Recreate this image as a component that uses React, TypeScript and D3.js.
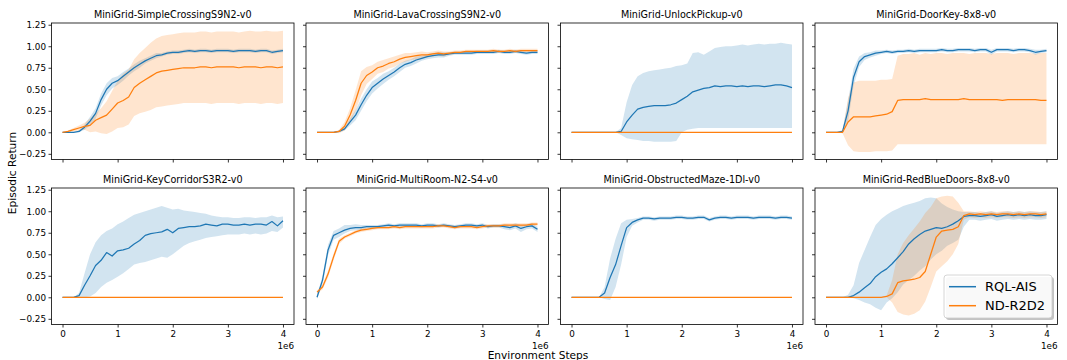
import React, { useEffect, useRef } from 'react';
import * as d3 from 'd3';

const W = 1067;
const H = 360;
const FONT = 'DejaVu Sans, sans-serif';

// environment steps, in units of 1e6
const steps = [
  0, 0.1, 0.2, 0.3, 0.4, 0.5, 0.6, 0.7, 0.8, 0.9,
  1.0, 1.1, 1.2, 1.3, 1.4, 1.5, 1.6, 1.7, 1.8, 1.9,
  2.0, 2.1, 2.2, 2.3, 2.4, 2.5, 2.6, 2.7, 2.8, 2.9,
  3.0, 3.1, 3.2, 3.3, 3.4, 3.5, 3.6, 3.7, 3.8, 3.9,
  4.0,
];

const envNames = [
  'MiniGrid-SimpleCrossingS9N2-v0',
  'MiniGrid-LavaCrossingS9N2-v0',
  'MiniGrid-UnlockPickup-v0',
  'MiniGrid-DoorKey-8x8-v0',
  'MiniGrid-KeyCorridorS3R2-v0',
  'MiniGrid-MultiRoom-N2-S4-v0',
  'MiniGrid-ObstructedMaze-1Dl-v0',
  'MiniGrid-RedBlueDoors-8x8-v0',
];

const seriesNames = ['RQL-AIS', 'ND-R2D2'];
const colors = ['#1f77b4', '#ff7f0e'];
const yTicks = [-0.25, 0, 0.25, 0.5, 0.75, 1.0, 1.25];
const xTicks = [0, 1, 2, 3, 4];

// ND-R2D2 never leaves zero on a few tasks
const flatZero = [
  0, 0, 0, 0, 0, 0, 0, 0, 0, 0,
  0, 0, 0, 0, 0, 0, 0, 0, 0, 0,
  0, 0, 0, 0, 0, 0, 0, 0, 0, 0,
  0, 0, 0, 0, 0, 0, 0, 0, 0, 0,
  0,
];

// SimpleCrossingS9N2
const scBlue = [0, 0, 0, 0.01, 0.06, 0.13, 0.22, 0.38, 0.5, 0.57, 0.6, 0.65, 0.7, 0.75, 0.79, 0.83, 0.86, 0.89, 0.9, 0.92, 0.93, 0.93, 0.94, 0.95, 0.94, 0.95, 0.95, 0.94, 0.95, 0.95, 0.95, 0.94, 0.95, 0.95, 0.95, 0.94, 0.95, 0.95, 0.93, 0.94, 0.95];
const scBlueLo = [0, 0, 0, 0, 0.03, 0.08, 0.16, 0.31, 0.43, 0.51, 0.55, 0.6, 0.66, 0.71, 0.75, 0.8, 0.83, 0.86, 0.88, 0.9, 0.91, 0.91, 0.92, 0.93, 0.92, 0.93, 0.93, 0.92, 0.93, 0.93, 0.93, 0.92, 0.93, 0.93, 0.93, 0.92, 0.93, 0.93, 0.91, 0.92, 0.93];
const scBlueHi = [0, 0, 0, 0.02, 0.09, 0.18, 0.28, 0.45, 0.57, 0.63, 0.65, 0.7, 0.74, 0.79, 0.83, 0.86, 0.89, 0.92, 0.92, 0.94, 0.95, 0.95, 0.96, 0.97, 0.96, 0.97, 0.97, 0.96, 0.97, 0.97, 0.97, 0.96, 0.97, 0.97, 0.97, 0.96, 0.97, 0.97, 0.95, 0.96, 0.97];
const scOrange = [0, 0.01, 0.03, 0.05, 0.07, 0.08, 0.14, 0.17, 0.2, 0.27, 0.34, 0.37, 0.41, 0.52, 0.57, 0.61, 0.65, 0.69, 0.71, 0.72, 0.73, 0.74, 0.75, 0.75, 0.75, 0.76, 0.76, 0.75, 0.76, 0.76, 0.76, 0.76, 0.75, 0.76, 0.76, 0.76, 0.75, 0.76, 0.76, 0.75, 0.76];
const scOrangeLo = [0, 0, 0.01, 0.02, 0.03, 0, 0.01, -0.01, -0.02, 0.01, 0.05, 0.06, 0.09, 0.19, 0.22, 0.24, 0.26, 0.29, 0.3, 0.31, 0.32, 0.33, 0.34, 0.34, 0.34, 0.34, 0.34, 0.33, 0.34, 0.34, 0.34, 0.34, 0.33, 0.34, 0.34, 0.34, 0.33, 0.34, 0.34, 0.33, 0.34];
const scOrangeHi = [0, 0.02, 0.05, 0.08, 0.11, 0.16, 0.22, 0.28, 0.36, 0.48, 0.6, 0.68, 0.73, 0.85, 0.92, 0.98, 1.04, 1.09, 1.12, 1.13, 1.14, 1.15, 1.16, 1.16, 1.16, 1.17, 1.17, 1.16, 1.17, 1.17, 1.17, 1.17, 1.16, 1.17, 1.18, 1.17, 1.17, 1.18, 1.17, 1.17, 1.18];

// LavaCrossingS9N2
const lcBlue = [0, 0, 0, 0, 0.01, 0.04, 0.12, 0.2, 0.32, 0.43, 0.52, 0.57, 0.62, 0.66, 0.7, 0.75, 0.79, 0.81, 0.84, 0.86, 0.88, 0.89, 0.9, 0.9, 0.91, 0.92, 0.92, 0.92, 0.92, 0.93, 0.93, 0.93, 0.93, 0.94, 0.93, 0.93, 0.94, 0.93, 0.92, 0.93, 0.93];
const lcBlueLo = [0, 0, 0, 0, 0, 0.02, 0.08, 0.14, 0.25, 0.36, 0.45, 0.51, 0.56, 0.61, 0.65, 0.7, 0.75, 0.77, 0.8, 0.83, 0.85, 0.86, 0.87, 0.87, 0.89, 0.9, 0.9, 0.9, 0.9, 0.91, 0.91, 0.91, 0.91, 0.92, 0.91, 0.91, 0.92, 0.91, 0.9, 0.91, 0.91];
const lcBlueHi = [0, 0, 0, 0, 0.02, 0.06, 0.16, 0.26, 0.39, 0.5, 0.59, 0.63, 0.68, 0.71, 0.75, 0.8, 0.83, 0.85, 0.88, 0.89, 0.91, 0.92, 0.93, 0.93, 0.93, 0.94, 0.94, 0.94, 0.94, 0.95, 0.95, 0.95, 0.95, 0.96, 0.95, 0.95, 0.96, 0.95, 0.94, 0.95, 0.95];
const lcOrange = [0, 0, 0, 0, 0.01, 0.07, 0.2, 0.37, 0.57, 0.66, 0.7, 0.75, 0.77, 0.8, 0.82, 0.85, 0.87, 0.88, 0.89, 0.9, 0.9, 0.91, 0.92, 0.91, 0.92, 0.93, 0.93, 0.94, 0.94, 0.94, 0.94, 0.94, 0.95, 0.94, 0.94, 0.95, 0.94, 0.95, 0.95, 0.95, 0.95];
const lcOrangeLo = [0, 0, 0, 0, -0.01, 0.02, 0.12, 0.25, 0.43, 0.56, 0.62, 0.68, 0.7, 0.74, 0.76, 0.8, 0.82, 0.84, 0.85, 0.86, 0.87, 0.88, 0.89, 0.88, 0.9, 0.91, 0.91, 0.92, 0.92, 0.92, 0.92, 0.92, 0.93, 0.92, 0.92, 0.93, 0.92, 0.93, 0.93, 0.93, 0.93];
const lcOrangeHi = [0, 0, 0, 0, 0.03, 0.12, 0.28, 0.49, 0.71, 0.76, 0.78, 0.82, 0.84, 0.86, 0.88, 0.9, 0.92, 0.92, 0.93, 0.94, 0.93, 0.94, 0.95, 0.94, 0.94, 0.95, 0.95, 0.96, 0.96, 0.96, 0.96, 0.96, 0.97, 0.96, 0.96, 0.97, 0.96, 0.97, 0.97, 0.97, 0.97];

// UnlockPickup
const ulBlue = [0, 0, 0, 0, 0, 0, 0, 0, 0, 0.01, 0.12, 0.2, 0.27, 0.29, 0.3, 0.31, 0.31, 0.31, 0.32, 0.34, 0.38, 0.42, 0.47, 0.49, 0.51, 0.52, 0.54, 0.53, 0.54, 0.54, 0.53, 0.54, 0.53, 0.54, 0.54, 0.53, 0.54, 0.55, 0.55, 0.54, 0.52];
const ulBlueLo = [0, 0, 0, 0, 0, 0, 0, 0, 0, -0.03, -0.07, -0.08, -0.09, -0.1, -0.1, -0.11, -0.11, -0.11, -0.11, -0.1, 0, 0.03, 0.04, 0.05, 0.05, 0.05, 0.05, 0.05, 0.05, 0.05, 0.05, 0.05, 0.05, 0.05, 0.05, 0.05, 0.05, 0.05, 0.05, 0.05, 0.05];
const ulBlueHi = [0, 0, 0, 0, 0, 0, 0, 0, 0, 0.05, 0.35, 0.55, 0.65, 0.69, 0.71, 0.72, 0.73, 0.74, 0.75, 0.77, 0.78, 0.8, 0.92, 0.93, 0.9, 0.94, 0.98, 0.99, 1.0, 1.0, 1.01, 1.02, 1.01, 1.02, 1.03, 1.02, 1.03, 1.03, 1.04, 1.03, 1.02];

// DoorKey-8x8
const dkBlue = [0, 0, 0, 0.01, 0.25, 0.64, 0.82, 0.88, 0.9, 0.92, 0.93, 0.94, 0.93, 0.94, 0.94, 0.95, 0.94, 0.95, 0.95, 0.95, 0.95, 0.96, 0.95, 0.95, 0.96, 0.96, 0.96, 0.95, 0.96, 0.96, 0.93, 0.96, 0.96, 0.96, 0.95, 0.96, 0.96, 0.95, 0.93, 0.94, 0.95];
const dkBlueLo = [0, 0, 0, -0.01, 0.13, 0.54, 0.76, 0.84, 0.87, 0.89, 0.91, 0.92, 0.91, 0.92, 0.92, 0.93, 0.92, 0.93, 0.93, 0.93, 0.93, 0.94, 0.93, 0.93, 0.94, 0.94, 0.94, 0.93, 0.94, 0.94, 0.9, 0.94, 0.94, 0.94, 0.93, 0.94, 0.94, 0.93, 0.9, 0.92, 0.93];
const dkBlueHi = [0, 0, 0, 0.03, 0.37, 0.74, 0.88, 0.92, 0.93, 0.95, 0.95, 0.96, 0.95, 0.96, 0.96, 0.97, 0.96, 0.97, 0.97, 0.97, 0.97, 0.98, 0.97, 0.97, 0.98, 0.98, 0.98, 0.97, 0.98, 0.98, 0.96, 0.98, 0.98, 0.98, 0.97, 0.98, 0.98, 0.97, 0.96, 0.96, 0.97];
const dkOrange = [0, 0, 0, 0, 0.12, 0.18, 0.18, 0.18, 0.18, 0.19, 0.2, 0.21, 0.24, 0.37, 0.38, 0.38, 0.38, 0.38, 0.39, 0.38, 0.38, 0.38, 0.38, 0.38, 0.38, 0.39, 0.38, 0.38, 0.38, 0.38, 0.38, 0.38, 0.37, 0.38, 0.38, 0.38, 0.38, 0.38, 0.38, 0.37, 0.37];
const dkOrangeLo = [0, 0, 0, -0.01, -0.15, -0.22, -0.23, -0.23, -0.23, -0.22, -0.22, -0.22, -0.21, -0.14, -0.14, -0.14, -0.14, -0.14, -0.14, -0.14, -0.14, -0.14, -0.14, -0.14, -0.14, -0.14, -0.14, -0.14, -0.14, -0.14, -0.14, -0.14, -0.14, -0.14, -0.14, -0.14, -0.14, -0.14, -0.14, -0.14, -0.14];
const dkOrangeHi = [0, 0, 0, 0.01, 0.4, 0.58, 0.6, 0.6, 0.6, 0.6, 0.61, 0.61, 0.62, 0.89, 0.91, 0.91, 0.92, 0.9, 0.92, 0.91, 0.92, 0.92, 0.91, 0.92, 0.92, 0.92, 0.91, 0.92, 0.92, 0.92, 0.91, 0.92, 0.92, 0.92, 0.91, 0.92, 0.92, 0.92, 0.91, 0.92, 0.92];

// KeyCorridorS3R2
const kcBlue = [0, 0, 0, 0.02, 0.14, 0.25, 0.37, 0.43, 0.52, 0.48, 0.54, 0.55, 0.57, 0.62, 0.66, 0.72, 0.74, 0.75, 0.76, 0.79, 0.75, 0.8, 0.81, 0.82, 0.82, 0.83, 0.85, 0.84, 0.83, 0.85, 0.85, 0.84, 0.84, 0.85, 0.84, 0.85, 0.85, 0.84, 0.88, 0.83, 0.89];
const kcBlueLo = [0, 0, 0, 0, 0, 0.01, 0.05, 0.12, 0.17, 0.2, 0.24, 0.28, 0.33, 0.38, 0.4, 0.41, 0.43, 0.45, 0.47, 0.46, 0.5, 0.55, 0.6, 0.63, 0.65, 0.67, 0.69, 0.7, 0.71, 0.72, 0.73, 0.73, 0.73, 0.74, 0.73, 0.74, 0.73, 0.74, 0.77, 0.76, 0.81];
const kcBlueHi = [0, 0, 0, 0.05, 0.28, 0.5, 0.64, 0.72, 0.77, 0.8, 0.85, 0.88, 0.92, 0.96, 0.98, 1.0, 1.02, 1.04, 1.06, 1.04, 1.02, 1.03, 1.01, 1.0, 0.99, 0.98, 0.97, 0.95, 0.94, 0.93, 0.93, 0.92, 0.92, 0.93, 0.93, 0.92, 0.93, 0.93, 0.95, 0.93, 0.94];

// MultiRoom-N2-S4
const mrBlue = [0, 0.2, 0.55, 0.72, 0.75, 0.78, 0.8, 0.81, 0.81, 0.82, 0.82, 0.82, 0.83, 0.84, 0.83, 0.84, 0.84, 0.84, 0.84, 0.83, 0.84, 0.84, 0.83, 0.84, 0.83, 0.82, 0.83, 0.84, 0.84, 0.83, 0.84, 0.82, 0.83, 0.83, 0.82, 0.81, 0.83, 0.8, 0.82, 0.83, 0.79];
const mrBlueLo = [-0.02, 0.15, 0.49, 0.67, 0.7, 0.74, 0.77, 0.78, 0.78, 0.8, 0.8, 0.8, 0.81, 0.82, 0.81, 0.82, 0.82, 0.82, 0.82, 0.81, 0.82, 0.82, 0.81, 0.82, 0.81, 0.8, 0.81, 0.82, 0.82, 0.81, 0.82, 0.8, 0.81, 0.81, 0.79, 0.78, 0.8, 0.76, 0.79, 0.8, 0.76];
const mrBlueHi = [0.02, 0.25, 0.61, 0.77, 0.8, 0.84, 0.84, 0.85, 0.84, 0.84, 0.84, 0.84, 0.85, 0.86, 0.85, 0.86, 0.86, 0.86, 0.86, 0.85, 0.86, 0.86, 0.85, 0.86, 0.85, 0.84, 0.85, 0.86, 0.86, 0.85, 0.86, 0.84, 0.85, 0.85, 0.85, 0.84, 0.86, 0.84, 0.85, 0.86, 0.82];
const mrOrange = [0.06, 0.12, 0.27, 0.47, 0.65, 0.7, 0.73, 0.76, 0.78, 0.79, 0.8, 0.81, 0.81, 0.81, 0.82, 0.81, 0.82, 0.82, 0.82, 0.82, 0.82, 0.82, 0.83, 0.83, 0.82, 0.81, 0.82, 0.82, 0.82, 0.81, 0.82, 0.83, 0.83, 0.83, 0.84, 0.84, 0.84, 0.84, 0.84, 0.85, 0.85];
const mrOrangeLo = [0.04, 0.09, 0.23, 0.43, 0.62, 0.68, 0.71, 0.74, 0.76, 0.77, 0.78, 0.79, 0.79, 0.79, 0.8, 0.79, 0.8, 0.8, 0.8, 0.8, 0.8, 0.8, 0.81, 0.81, 0.8, 0.79, 0.8, 0.8, 0.8, 0.79, 0.8, 0.81, 0.81, 0.81, 0.82, 0.82, 0.82, 0.82, 0.82, 0.83, 0.83];
const mrOrangeHi = [0.08, 0.15, 0.31, 0.51, 0.68, 0.72, 0.75, 0.78, 0.8, 0.81, 0.82, 0.83, 0.83, 0.83, 0.84, 0.83, 0.84, 0.84, 0.84, 0.84, 0.84, 0.84, 0.85, 0.85, 0.84, 0.83, 0.84, 0.84, 0.84, 0.83, 0.84, 0.85, 0.85, 0.85, 0.86, 0.86, 0.86, 0.86, 0.86, 0.87, 0.87];

// ObstructedMaze-1Dl
const omBlue = [0, 0, 0, 0, 0, 0, 0.05, 0.23, 0.38, 0.6, 0.81, 0.87, 0.9, 0.92, 0.92, 0.91, 0.92, 0.92, 0.92, 0.93, 0.93, 0.92, 0.92, 0.93, 0.93, 0.9, 0.92, 0.93, 0.93, 0.92, 0.93, 0.93, 0.93, 0.92, 0.93, 0.93, 0.93, 0.92, 0.93, 0.93, 0.92];
const omBlueLo = [0, 0, 0, 0, 0, 0, -0.02, -0.03, 0.12, 0.38, 0.7, 0.83, 0.87, 0.9, 0.9, 0.89, 0.9, 0.9, 0.9, 0.91, 0.91, 0.9, 0.9, 0.91, 0.91, 0.88, 0.9, 0.91, 0.91, 0.9, 0.91, 0.91, 0.91, 0.9, 0.91, 0.91, 0.91, 0.9, 0.91, 0.91, 0.9];
const omBlueHi = [0, 0, 0, 0, 0, 0, 0.12, 0.45, 0.68, 0.86, 0.9, 0.91, 0.92, 0.94, 0.94, 0.93, 0.94, 0.94, 0.94, 0.95, 0.95, 0.94, 0.94, 0.95, 0.95, 0.92, 0.94, 0.95, 0.95, 0.94, 0.95, 0.95, 0.95, 0.94, 0.95, 0.95, 0.95, 0.94, 0.95, 0.95, 0.94];

// RedBlueDoors-8x8
const rbBlue = [0, 0, 0, 0, 0, 0.02, 0.06, 0.11, 0.16, 0.24, 0.29, 0.33, 0.39, 0.46, 0.53, 0.62, 0.68, 0.73, 0.77, 0.79, 0.81, 0.8, 0.82, 0.85, 0.89, 0.94, 0.95, 0.95, 0.94, 0.95, 0.96, 0.94, 0.95, 0.96, 0.95, 0.96, 0.95, 0.96, 0.95, 0.95, 0.96];
const rbBlueLo = [0, 0, 0, 0, 0, -0.01, -0.03, -0.06, -0.08, -0.12, -0.15, -0.06, -0.01, 0.06, 0.15, 0.2, 0.25, 0.31, 0.36, 0.44, 0.5, 0.54, 0.6, 0.63, 0.67, 0.82, 0.9, 0.9, 0.89, 0.9, 0.91, 0.89, 0.9, 0.91, 0.9, 0.91, 0.9, 0.91, 0.9, 0.9, 0.91];
const rbBlueHi = [0, 0, 0, 0, 0.03, 0.14, 0.4, 0.55, 0.7, 0.84, 0.91, 0.96, 1.0, 1.03, 1.06, 1.08, 1.1, 1.12, 1.15, 1.16, 1.15, 1.09, 1.05, 1.02, 1.0, 0.99, 0.99, 0.99, 0.98, 0.99, 1.0, 0.98, 0.99, 1.0, 0.99, 1.0, 0.99, 1.0, 0.99, 0.99, 1.0];
const rbOrange = [0, 0, 0, 0, 0, 0, 0, 0, 0, 0, 0, 0.01, 0.04, 0.17, 0.19, 0.2, 0.21, 0.23, 0.3, 0.5, 0.7, 0.77, 0.78, 0.79, 0.82, 0.95, 0.97, 0.96, 0.97, 0.96, 0.97, 0.96, 0.97, 0.97, 0.96, 0.97, 0.96, 0.97, 0.97, 0.96, 0.97];
const rbOrangeLo = [0, 0, 0, 0, 0, 0, 0, 0, 0, 0, 0, 0, -0.06, -0.17, -0.2, -0.21, -0.19, -0.15, -0.05, 0.12, 0.3, 0.36, 0.42, 0.5, 0.62, 0.9, 0.93, 0.92, 0.93, 0.92, 0.93, 0.92, 0.93, 0.93, 0.92, 0.93, 0.92, 0.93, 0.93, 0.92, 0.93];
const rbOrangeHi = [0, 0, 0, 0, 0, 0, 0, 0, 0, 0, 0, 0.02, 0.2, 0.5, 0.63, 0.72, 0.8, 0.88, 0.98, 1.05, 1.15, 1.17, 1.18, 1.17, 1.1, 1.0, 1.0, 0.99, 1.0, 0.99, 1.0, 0.99, 1.0, 1.0, 0.99, 1.0, 0.99, 1.0, 1.0, 0.99, 1.0];

type Series = { mean: number[]; lo: number[]; hi: number[] };

const panels: { title: string; series: Series[] }[] = [
  { title: envNames[0], series: [{ mean: scBlue, lo: scBlueLo, hi: scBlueHi }, { mean: scOrange, lo: scOrangeLo, hi: scOrangeHi }] },
  { title: envNames[1], series: [{ mean: lcBlue, lo: lcBlueLo, hi: lcBlueHi }, { mean: lcOrange, lo: lcOrangeLo, hi: lcOrangeHi }] },
  { title: envNames[2], series: [{ mean: ulBlue, lo: ulBlueLo, hi: ulBlueHi }, { mean: flatZero, lo: flatZero, hi: flatZero }] },
  { title: envNames[3], series: [{ mean: dkBlue, lo: dkBlueLo, hi: dkBlueHi }, { mean: dkOrange, lo: dkOrangeLo, hi: dkOrangeHi }] },
  { title: envNames[4], series: [{ mean: kcBlue, lo: kcBlueLo, hi: kcBlueHi }, { mean: flatZero, lo: flatZero, hi: flatZero }] },
  { title: envNames[5], series: [{ mean: mrBlue, lo: mrBlueLo, hi: mrBlueHi }, { mean: mrOrange, lo: mrOrangeLo, hi: mrOrangeHi }] },
  { title: envNames[6], series: [{ mean: omBlue, lo: omBlueLo, hi: omBlueHi }, { mean: flatZero, lo: flatZero, hi: flatZero }] },
  { title: envNames[7], series: [{ mean: rbBlue, lo: rbBlueLo, hi: rbBlueHi }, { mean: rbOrange, lo: rbOrangeLo, hi: rbOrangeHi }] },
];

// grid layout
const panelLeft = [51.5, 306, 560.5, 815];
const panelTop = [23, 188];
const panelW = 242.5;
const panelH = 136.5;
const xDomain = [-0.2, 4.2];
const yDomain = [-0.316, 1.27];

const fmtY = (v: number) => v.toFixed(2).replace('-', '\u2212');

const App = () => {
  const ref = useRef<SVGSVGElement>(null);

  useEffect(() => {
    const svg = d3.select(ref.current);
    svg.selectAll('*').remove();
    svg.append('rect').attr('width', W).attr('height', H).attr('fill', '#fff');

    panels.forEach((p, i) => {
      const col = i % 4;
      const row = Math.floor(i / 4);
      const left = panelLeft[col];
      const top = panelTop[row];
      const x = d3.scaleLinear().domain(xDomain).range([left, left + panelW]);
      const y = d3.scaleLinear().domain(yDomain).range([top + panelH, top]);
      const g = svg.append('g');

      // bands first, then the mean lines
      p.series.forEach((s, k) => {
        const band = d3.area<number>()
          .x((_, j) => x(steps[j]))
          .y0((_, j) => y(s.lo[j]))
          .y1((_, j) => y(s.hi[j]));
        g.append('path')
          .datum(s.mean)
          .attr('d', band)
          .attr('fill', colors[k])
          .attr('fill-opacity', 0.2);
      });
      p.series.forEach((s, k) => {
        const line = d3.line<number>()
          .x((_, j) => x(steps[j]))
          .y(d => y(d));
        g.append('path')
          .datum(s.mean)
          .attr('d', line)
          .attr('fill', 'none')
          .attr('stroke', colors[k])
          .attr('stroke-width', 1.25)
          .attr('stroke-linejoin', 'round');
      });

      // axes
      const yAxis = d3.axisLeft(y)
        .tickValues(yTicks)
        .tickSize(3)
        .tickPadding(2.5)
        .tickFormat(col === 0 ? (d => fmtY(+d)) : () => '');
      const ya = g.append('g').attr('transform', `translate(${left},0)`).call(yAxis);
      ya.select('.domain').remove();

      const xAxis = d3.axisBottom(x)
        .tickValues(xTicks)
        .tickSize(3)
        .tickPadding(3)
        .tickFormat(row === 1 ? d3.format('d') : () => '');
      const xa = g.append('g').attr('transform', `translate(0,${top + panelH})`).call(xAxis);
      xa.select('.domain').remove();

      [ya, xa].forEach(a => {
        a.attr('font-family', FONT).attr('font-size', 8.8);
        a.selectAll('text').attr('fill', '#000');
        a.selectAll('line').attr('stroke', '#000').attr('stroke-width', 0.8);
      });

      g.append('rect')
        .attr('x', left)
        .attr('y', top)
        .attr('width', panelW)
        .attr('height', panelH)
        .attr('fill', 'none')
        .attr('stroke', '#000')
        .attr('stroke-width', 0.8);

      g.append('text')
        .attr('x', left + panelW / 2)
        .attr('y', top - 5)
        .attr('text-anchor', 'middle')
        .attr('font-family', FONT)
        .attr('font-size', 9.6)
        .text(p.title);

      if (row === 1) {
        g.append('text')
          .attr('x', left + panelW)
          .attr('y', 349.3)
          .attr('text-anchor', 'end')
          .attr('font-family', FONT)
          .attr('font-size', 8.8)
          .text('1e6');
      }

      // legend sits in the last panel, lower right
      if (i === panels.length - 1) {
        const lx = 944;
        const ly = 275;
        const lw = 108;
        const lh = 43;
        const lg = g.append('g');
        lg.append('rect')
          .attr('x', lx + 2).attr('y', ly + 2).attr('width', lw).attr('height', lh)
          .attr('rx', 3).attr('fill', '#888').attr('fill-opacity', 0.5);
        lg.append('rect')
          .attr('x', lx).attr('y', ly).attr('width', lw).attr('height', lh)
          .attr('rx', 3).attr('fill', '#fff').attr('fill-opacity', 0.9)
          .attr('stroke', '#ccc').attr('stroke-width', 0.8);
        seriesNames.forEach((name, k) => {
          const cy = ly + 11.7 + k * 19;
          lg.append('line')
            .attr('x1', lx + 5).attr('x2', lx + 32)
            .attr('y1', cy).attr('y2', cy)
            .attr('stroke', colors[k]).attr('stroke-width', 1.5);
          lg.append('text')
            .attr('x', lx + 41)
            .attr('y', cy)
            .attr('dominant-baseline', 'central')
            .attr('font-family', FONT)
            .attr('font-size', 13)
            .text(name);
        });
      }
    });

    svg.append('text')
      .attr('x', 538)
      .attr('y', 359.3)
      .attr('text-anchor', 'middle')
      .attr('font-family', FONT)
      .attr('font-size', 10.6)
      .text('Environment Steps');

    svg.append('text')
      .attr('transform', 'translate(12,173) rotate(-90)')
      .attr('text-anchor', 'middle')
      .attr('dominant-baseline', 'central')
      .attr('font-family', FONT)
      .attr('font-size', 10.6)
      .text('Episodic Return');
  }, []);

  return (
    <svg
      ref={ref}
      width={W}
      height={H}
      style={{ position: 'absolute', left: 0, top: 0, display: 'block' }}
    />
  );
};

export default App;
